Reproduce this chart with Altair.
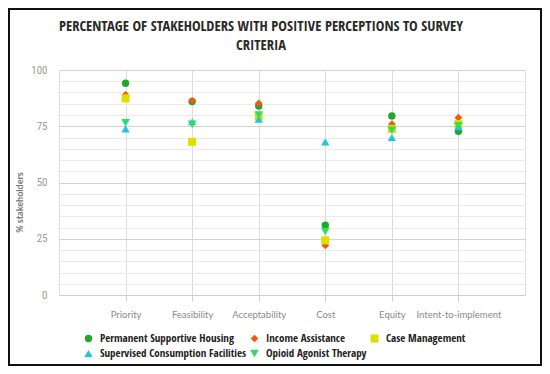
import altair as alt
import pandas as pd

categories = ["Priority", "Feasibility", "Acceptability", "Cost", "Equity", "Intent-to-implement"]
series = ["Permanent Supportive Housing", "Income Assistance", "Case Management",
          "Supervised Consumption Facilities", "Opioid Agonist Therapy"]
psh = [94.1, 86.0, 84.0, 31.0, 79.6, 72.8]
ia = [89.0, 86.3, 85.2, 22.0, 76.0, 78.8]
cm = [87.4, 68.1, 79.4, 24.3, 73.8, 76.0]
scf = [73.8, 77.0, 78.2, 68.1, 70.0, 74.8]
oat = [76.6, 75.9, 80.0, 28.2, 73.2, 75.2]
colors = ["#1fa82b", "#f05a16", "#dede00", "#1ec6e4", "#2fdc6a"]
shapes = ["circle", "diamond", "square", "triangle-up", "triangle-down"]
sizes = [55, 75, 60, 50, 50]
title_lines = ["PERCENTAGE OF STAKEHOLDERS WITH POSITIVE PERCEPTIONS TO SURVEY", "CRITERIA"]

rows = []
for s, vals in zip(series, [psh, ia, cm, scf, oat]):
    for c, v in zip(categories, vals):
        rows.append({"criterion": c, "series": s, "value": v, "order": series.index(s)})
df = pd.DataFrame(rows)

points = alt.Chart(df).mark_point(filled=True, opacity=1).encode(
    x=alt.X("criterion:N", sort=categories, title=None,
            scale=alt.Scale(type="point", padding=1),
            axis=alt.Axis(labelAngle=0, labelColor="#8a8a8a", labelFontSize=9.5,
                          labelFont="Lato", labelPadding=8, tickColor="#cfcfcf", tickSize=6,
                          domainColor="#cfcfcf", gridColor="#dcdcdc", grid=True)),
    y=alt.Y("value:Q", title="% stakeholders",
            scale=alt.Scale(domain=[0, 100], nice=False),
            axis=alt.Axis(values=list(range(0, 101, 5)),
                          labelExpr="datum.value % 25 === 0 ? datum.label : ''",
                          labelColor="#9a9a9a", labelFontSize=11, labelFont="Roboto Condensed",
                          ticks=False, labelPadding=12, domain=False,
                          gridColor={"condition": {"test": "datum.value % 25 === 0", "value": "#d2d2d2"},
                                     "value": "#ebebeb"},
                          titleColor="#777", titleFontSize=9, titleFont="Lato", titleFontWeight="bold",
                          titleX=-40, titleY=132, titleAngle=-90, titleBaseline="middle",
                          titleAlign="center")),
    color=alt.Color("series:N", sort=series,
                    scale=alt.Scale(domain=series, range=colors),
                    legend=alt.Legend(title=None, orient="none", legendX=24, legendY=263,
                                      direction="horizontal", columns=3, gridAlign="none",
                                      columnPadding=2, rowPadding=3,
                                      labelFont="Open Sans Condensed", labelFontSize=11,
                                      labelFontWeight="bold", labelColor="#222", labelLimit=300,
                                      labelOffset=6, symbolSize=45)),
    shape=alt.Shape("series:N", sort=series, scale=alt.Scale(domain=series, range=shapes)),
    size=alt.Size("series:N", sort=series, scale=alt.Scale(domain=series, range=sizes), legend=None),
    order=alt.Order("order:Q"),
)

one = pd.DataFrame({"a": [0]})
frame = alt.Chart(one).mark_rect(
    fill="transparent", stroke="#111", strokeWidth=2).encode(
    x=alt.value(-50), x2=alt.value(482), y=alt.value(-61), y2=alt.value(295))

title1 = alt.Chart(one).mark_text(
    text=title_lines[0], font="Open Sans Condensed", fontSize=14.5, fontWeight="bold",
    color="#2a2a2a", align="center", baseline="middle").encode(
    x=alt.value(202), y=alt.value(-43))
title2 = alt.Chart(one).mark_text(
    text=title_lines[1], font="Open Sans Condensed", fontSize=14.5, fontWeight="bold",
    color="#2a2a2a", align="center", baseline="middle").encode(
    x=alt.value(202), y=alt.value(-24))

chart = alt.layer(points, frame, title1, title2).properties(
    width=466, height=225,
    autosize=alt.AutoSizeParams(type="none"),
    padding={"left": 51, "top": 62, "right": 17, "bottom": 71},
).configure_view(stroke="#d2d2d2").configure(background="white")

chart.save("out.html", embed_options={"renderer": "svg", "actions": False})
